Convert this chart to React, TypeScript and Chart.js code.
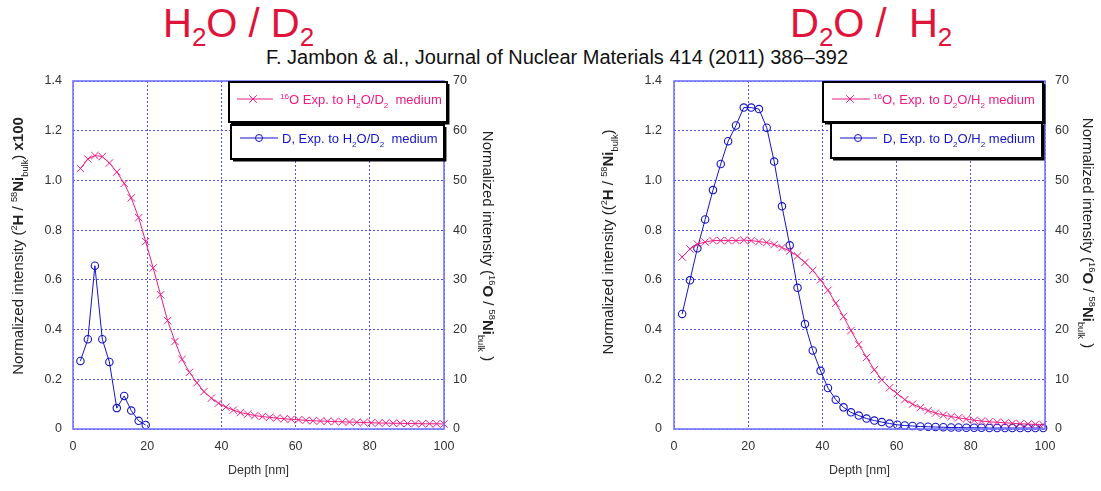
import React, { useEffect, useRef } from 'react';
import { Chart, registerables } from 'chart.js';

Chart.register(...registerables);

const FONT = '"Liberation Sans", Arial, Helvetica, sans-serif';
const RED = '#e0133a';
const PINK = '#ee1c84';
const BLUE = '#1414c8';
const GRID = 'rgba(50,50,240,0.85)';
const BOX = '#7474ff';
const TICK = '#333333';

// ---------- data ----------
const depthLeft = [
  2.0, 4.0, 5.9, 7.9, 9.8, 11.8, 13.8, 15.7, 17.7, 19.6,
  21.6, 23.6, 25.5, 27.5, 29.4, 31.4, 33.4, 35.3, 37.3, 39.2,
  41.2, 43.2, 45.1, 47.1, 49.0, 51.0, 53.0, 54.9, 56.9, 58.8,
  60.8, 62.8, 64.7, 66.7, 68.6, 70.6, 72.6, 74.5, 76.5, 78.4,
  80.4, 82.4, 84.3, 86.3, 88.2, 90.2, 92.2, 94.1, 96.1, 98.0, 100.0,
];
// 16O / 58Ni (right axis, 0..70)
const oxygenLeft = [
  52.4, 54.3, 55.0, 54.8, 53.5, 51.7, 49.4, 46.5, 42.5, 37.7,
  32.4, 27.0, 21.8, 17.6, 14.0, 11.4, 9.3, 7.5, 6.2, 5.2,
  4.4, 3.8, 3.3, 3.0, 2.7, 2.5, 2.35, 2.2, 2.05, 1.95,
  1.85, 1.75, 1.65, 1.6, 1.55, 1.5, 1.45, 1.4, 1.35, 1.3,
  1.25, 1.2, 1.2, 1.15, 1.15, 1.1, 1.1, 1.05, 1.05, 1.05, 1.0,
];
// 2H / 58Ni x100 (left axis, 0..1.4)
const deuteriumLeft = [0.274, 0.361, 0.657, 0.361, 0.27, 0.084, 0.133, 0.074, 0.033, 0.016];

const depthRight = [
  2.2, 4.3, 6.3, 8.4, 10.5, 12.6, 14.6, 16.7, 18.8, 20.8,
  22.9, 25.0, 27.0, 29.1, 31.2, 33.3, 35.3, 37.4, 39.5, 41.5,
  43.6, 45.7, 47.7, 49.8, 51.9, 54.0, 56.0, 58.1, 60.2, 62.2,
  64.3, 66.4, 68.5, 70.5, 72.6, 74.7, 76.7, 78.8, 80.9, 82.9,
  85.0, 87.1, 89.2, 91.2, 93.3, 95.4, 97.4, 99.5,
];
const oxygenRight = [
  34.6, 36.2, 37.2, 37.6, 37.9, 37.9, 37.9, 37.9, 38.0, 37.9,
  37.7, 37.5, 37.1, 36.5, 35.8, 34.8, 33.5, 31.9, 30.0, 27.9,
  25.3, 22.6, 19.8, 17.0, 14.4, 11.9, 9.9, 8.3, 7.1, 5.9,
  5.0, 4.3, 3.7, 3.2, 2.8, 2.5, 2.25, 2.0, 1.75, 1.6,
  1.45, 1.35, 1.25, 1.15, 1.05, 1.0, 0.9, 0.85,
];
const deuteriumRight = [
  0.463, 0.598, 0.727, 0.843, 0.961, 1.066, 1.158, 1.221, 1.293, 1.293,
  1.287, 1.212, 1.076, 0.896, 0.739, 0.568, 0.422, 0.316, 0.234, 0.165,
  0.118, 0.087, 0.067, 0.054, 0.042, 0.034, 0.028, 0.022, 0.017, 0.014,
  0.012, 0.010, 0.009, 0.008, 0.007, 0.006, 0.006, 0.005, 0.005, 0.005,
  0.004, 0.004, 0.004, 0.004, 0.004, 0.004, 0.004, 0.004,
];

const xTitle = 'Depth [nm]';
const citation = 'F. Jambon & al., Journal of Nuclear Materials 414 (2011) 386\u2013392';

// ---------- rich text helpers ----------
type Seg = { t: string; k?: 'b' | 'sup' | 'sub' };

const leftTitleA: Seg[] = [
  { t: 'Normalized intensity (' }, { t: '2', k: 'sup' }, { t: 'H', k: 'b' }, { t: ' / ' },
  { t: '58', k: 'sup' }, { t: 'Ni', k: 'b' }, { t: 'bulk', k: 'sub' }, { t: ') ' }, { t: 'x100', k: 'b' },
];
const rightTitleA: Seg[] = [
  { t: 'Normalized intensity (' }, { t: '16', k: 'sup' }, { t: 'O', k: 'b' }, { t: ' / ' },
  { t: '58', k: 'sup' }, { t: 'Ni', k: 'b' }, { t: 'bulk', k: 'sub' }, { t: ' )' },
];
const leftTitleB: Seg[] = [
  { t: 'Normalized intensity ((' }, { t: '2', k: 'sup' }, { t: 'H', k: 'b' }, { t: ' / ' },
  { t: '58', k: 'sup' }, { t: 'Ni', k: 'b' }, { t: 'bulk', k: 'sub' }, { t: ')' },
];
const rightTitleB: Seg[] = rightTitleA;

const legOxA: Seg[] = [{ t: '16', k: 'sup' }, { t: 'O Exp. to H' }, { t: '2', k: 'sub' }, { t: 'O/D' }, { t: '2', k: 'sub' }, { t: '  medium' }];
const legDA: Seg[] = [{ t: 'D, Exp. to H' }, { t: '2', k: 'sub' }, { t: 'O/D' }, { t: '2', k: 'sub' }, { t: '  medium' }];
const legOxB: Seg[] = [{ t: '16', k: 'sup' }, { t: 'O, Exp. to D' }, { t: '2', k: 'sub' }, { t: 'O/H' }, { t: '2', k: 'sub' }, { t: ' medium' }];
const legDB: Seg[] = [{ t: 'D, Exp. to D' }, { t: '2', k: 'sub' }, { t: 'O/H' }, { t: '2', k: 'sub' }, { t: ' medium' }];

function segFont(k: Seg['k'], size: number) {
  if (k === 'b') return `bold ${size}px ${FONT}`;
  if (k === 'sup' || k === 'sub') return `${(size * 0.62).toFixed(1)}px ${FONT}`;
  return `${size}px ${FONT}`;
}
function richWidth(ctx: CanvasRenderingContext2D, segs: Seg[], size: number) {
  let w = 0;
  for (const s of segs) {
    ctx.font = segFont(s.k, size);
    w += ctx.measureText(s.t).width;
  }
  return w;
}
function drawRich(ctx: CanvasRenderingContext2D, segs: Seg[], x: number, y: number, size: number, color: string) {
  ctx.fillStyle = color;
  ctx.textBaseline = 'alphabetic';
  ctx.textAlign = 'left';
  for (const s of segs) {
    ctx.font = segFont(s.k, size);
    const dy = s.k === 'sup' ? -size * 0.42 : s.k === 'sub' ? size * 0.32 : 0;
    ctx.fillText(s.t, x, y + dy);
    x += ctx.measureText(s.t).width;
  }
}
function drawRotated(ctx: CanvasRenderingContext2D, segs: Seg[], cx: number, cy: number, angle: number, size: number, color: string) {
  ctx.save();
  ctx.translate(cx, cy);
  ctx.rotate(angle);
  const w = richWidth(ctx, segs, size);
  drawRich(ctx, segs, -w / 2, size * 0.36, size, color);
  ctx.restore();
}

type LegendSpec = {
  box: [number, number, number, number];
  line: [number, number];
  mark: number;
  text: number;
  lineDy: number;
  textDy: number;
  segs: Seg[];
  color: string;
  marker: 'x' | 'o';
};

function drawLegend(ctx: CanvasRenderingContext2D, lg: LegendSpec) {
  const [x, y, w, h] = lg.box;
  ctx.fillStyle = '#ffffff';
  ctx.fillRect(x, y, w, h);
  ctx.strokeStyle = '#000000';
  ctx.lineWidth = 2;
  ctx.strokeRect(x, y, w, h);
  ctx.lineWidth = 1.5;
  ctx.beginPath();
  ctx.moveTo(x + w + 1.7, y + 2);
  ctx.lineTo(x + w + 1.7, y + h + 1.7);
  ctx.lineTo(x + 2, y + h + 1.7);
  ctx.stroke();
  const ly = y + lg.lineDy;
  ctx.strokeStyle = lg.color;
  ctx.lineWidth = 1;
  ctx.beginPath();
  ctx.moveTo(x + lg.line[0], ly);
  ctx.lineTo(x + lg.line[1], ly);
  ctx.stroke();
  const mx = x + lg.mark;
  ctx.beginPath();
  if (lg.marker === 'x') {
    const r = 3.8;
    ctx.moveTo(mx - r, ly - r); ctx.lineTo(mx + r, ly + r);
    ctx.moveTo(mx + r, ly - r); ctx.lineTo(mx - r, ly + r);
  } else {
    ctx.arc(mx, ly, 3.5, 0, Math.PI * 2);
  }
  ctx.stroke();
  drawRich(ctx, lg.segs, x + lg.text, y + lg.textDy, 13, lg.color);
}

type PanelSpec = {
  depthO: number[];
  oxygen: number[];
  depthD: number[];
  deuterium: number[];
  leftW: number;
  rightW: number;
  leftPad: number;
  rightPad: number;
  leftTitle: Seg[];
  rightTitle: Seg[];
  leftTitlePos: [number, number];
  rightTitlePos: [number, number];
  legends: LegendSpec[];
};

function makeChart(canvas: HTMLCanvasElement, p: PanelSpec) {
  const decor = {
    id: 'decor',
    afterDraw(chart: any) {
      const ctx: CanvasRenderingContext2D = chart.ctx;
      const a = chart.chartArea;
      ctx.save();
      ctx.strokeStyle = BOX;
      ctx.lineWidth = 1.6;
      ctx.strokeRect(a.left, a.top, a.right - a.left, a.bottom - a.top);
      drawRotated(ctx, p.leftTitle, p.leftTitlePos[0], p.leftTitlePos[1], -Math.PI / 2, 15, '#222');
      drawRotated(ctx, p.rightTitle, p.rightTitlePos[0], p.rightTitlePos[1], Math.PI / 2, 15, '#222');
      ctx.font = `12.5px ${FONT}`;
      ctx.fillStyle = TICK;
      ctx.textAlign = 'center';
      ctx.textBaseline = 'alphabetic';
      ctx.fillText(xTitle, (a.left + a.right) / 2, 414);
      for (const lg of p.legends) drawLegend(ctx, lg);
      ctx.restore();
    },
  };

  const gridOpts = { color: GRID, lineWidth: 1, drawTicks: false };
  return new Chart(canvas, {
    type: 'line',
    data: {
      datasets: [
        {
          label: '16O',
          data: p.depthO.map((x, i) => ({ x, y: p.oxygen[i] })),
          yAxisID: 'y2',
          borderColor: PINK,
          backgroundColor: PINK,
          borderWidth: 1,
          pointStyle: 'crossRot',
          pointRadius: 5.2,
          pointBorderWidth: 1,
          pointBorderColor: PINK,
          tension: 0,
          clip: 6,
        },
        {
          label: 'D',
          data: p.depthD.map((x, i) => ({ x, y: p.deuterium[i] })),
          yAxisID: 'y',
          borderColor: BLUE,
          backgroundColor: 'rgba(255,255,255,0)',
          borderWidth: 1,
          pointStyle: 'circle',
          pointRadius: 3.7,
          pointBorderWidth: 1.1,
          pointBorderColor: BLUE,
          pointBackgroundColor: 'rgba(255,255,255,0)',
          tension: 0,
          clip: 6,
        },
      ],
    },
    options: {
      animation: false,
      responsive: false,
      maintainAspectRatio: false,
      layout: { padding: { top: 21, left: 0, right: 0, bottom: 0 } },
      plugins: { legend: { display: false }, tooltip: { enabled: false }, title: { display: false } },
      scales: {
        x: {
          type: 'linear',
          min: 0,
          max: 100,
          ticks: { stepSize: 20, padding: 10, color: TICK, font: { family: FONT, size: 12.5 }, maxRotation: 0 },
          grid: { ...gridOpts },
          border: { display: false, dash: [2, 2] },
          afterFit: (s: any) => { s.height = 62; },
        },
        y: {
          type: 'linear',
          position: 'left',
          min: 0,
          max: 1.4,
          ticks: { stepSize: 0.2, padding: p.leftPad, color: TICK, font: { family: FONT, size: 12.5 } },
          grid: { ...gridOpts },
          border: { display: false, dash: [2, 2] },
          afterFit: (s: any) => { s.width = p.leftW; },
        },
        y2: {
          type: 'linear',
          position: 'right',
          min: 0,
          max: 70,
          ticks: { stepSize: 10, padding: p.rightPad, color: TICK, font: { family: FONT, size: 12.5 } },
          grid: { display: false, drawTicks: false },
          border: { display: false },
          afterFit: (s: any) => { s.width = p.rightW; },
        },
      },
    } as any,
    plugins: [decor],
  });
}

const panelLeft: PanelSpec = {
  depthO: depthLeft,
  oxygen: oxygenLeft,
  depthD: depthLeft.slice(0, deuteriumLeft.length),
  deuterium: deuteriumLeft,
  leftW: 73,
  rightW: 106,
  leftPad: 11,
  rightPad: 9,
  leftTitle: leftTitleA,
  rightTitle: rightTitleA,
  leftTitlePos: [18, 186],
  rightTitlePos: [488, 186],
  legends: [
    { box: [229, 22, 218, 40], line: [8, 44], mark: 24, text: 51, lineDy: 17, textDy: 22, segs: legOxA, color: PINK, marker: 'x' },
    { box: [231, 65, 213, 34], line: [9, 47], mark: 28, text: 51, lineDy: 13, textDy: 18, segs: legDA, color: BLUE, marker: 'o' },
  ],
};

const panelRight: PanelSpec = {
  depthO: depthRight,
  oxygen: oxygenRight,
  depthD: depthRight,
  deuterium: deuteriumRight,
  leftW: 124,
  rightW: 56,
  leftPad: 12,
  rightPad: 10,
  leftTitle: leftTitleB,
  rightTitle: rightTitleB,
  leftTitlePos: [58, 182],
  rightTitlePos: [538, 173],
  legends: [
    { box: [273, 22, 220, 40], line: [9, 47], mark: 27, text: 50, lineDy: 17, textDy: 22, segs: legOxB, color: PINK, marker: 'x' },
    { box: [281, 63, 211, 35], line: [9, 46], mark: 27, text: 52, lineDy: 15, textDy: 20, segs: legDB, color: BLUE, marker: 'o' },
  ],
};

function Panel({ spec, left, width }: { spec: PanelSpec; left: number; width: number }) {
  const ref = useRef<HTMLCanvasElement | null>(null);
  useEffect(() => {
    if (!ref.current) return;
    const chart = makeChart(ref.current, spec);
    return () => chart.destroy();
  }, [spec]);
  return (
    <canvas
      ref={ref}
      width={width}
      height={431}
      style={{ position: 'absolute', left, top: 60, width, height: 431 }}
    />
  );
}

const subStyle: React.CSSProperties = { fontSize: 26, position: 'relative', top: 9 };

export default function App() {
  return (
    <div
      style={{
        position: 'absolute',
        left: 0,
        top: 0,
        width: 1101,
        height: 491,
        overflow: 'hidden',
        background: '#ffffff',
        fontFamily: FONT,
      }}
    >
      <div style={{ position: 'absolute', left: 163, top: 3, fontSize: 40, lineHeight: '40px', color: RED, whiteSpace: 'pre' }}>
        H<span style={subStyle}>2</span>O / D<span style={subStyle}>2</span>
      </div>
      <div style={{ position: 'absolute', left: 790, top: 3, fontSize: 40, lineHeight: '40px', color: RED, whiteSpace: 'pre' }}>
        D<span style={subStyle}>2</span>O /  H<span style={subStyle}>2</span>
      </div>
      <div style={{ position: 'absolute', left: 257, top: 47, width: 600, textAlign: 'center', fontSize: 20, lineHeight: '20px', color: '#111', whiteSpace: 'nowrap' }}>
        {citation}
      </div>
      <Panel spec={panelLeft} left={0} width={550} />
      <Panel spec={panelRight} left={550} width={551} />
    </div>
  );
}
